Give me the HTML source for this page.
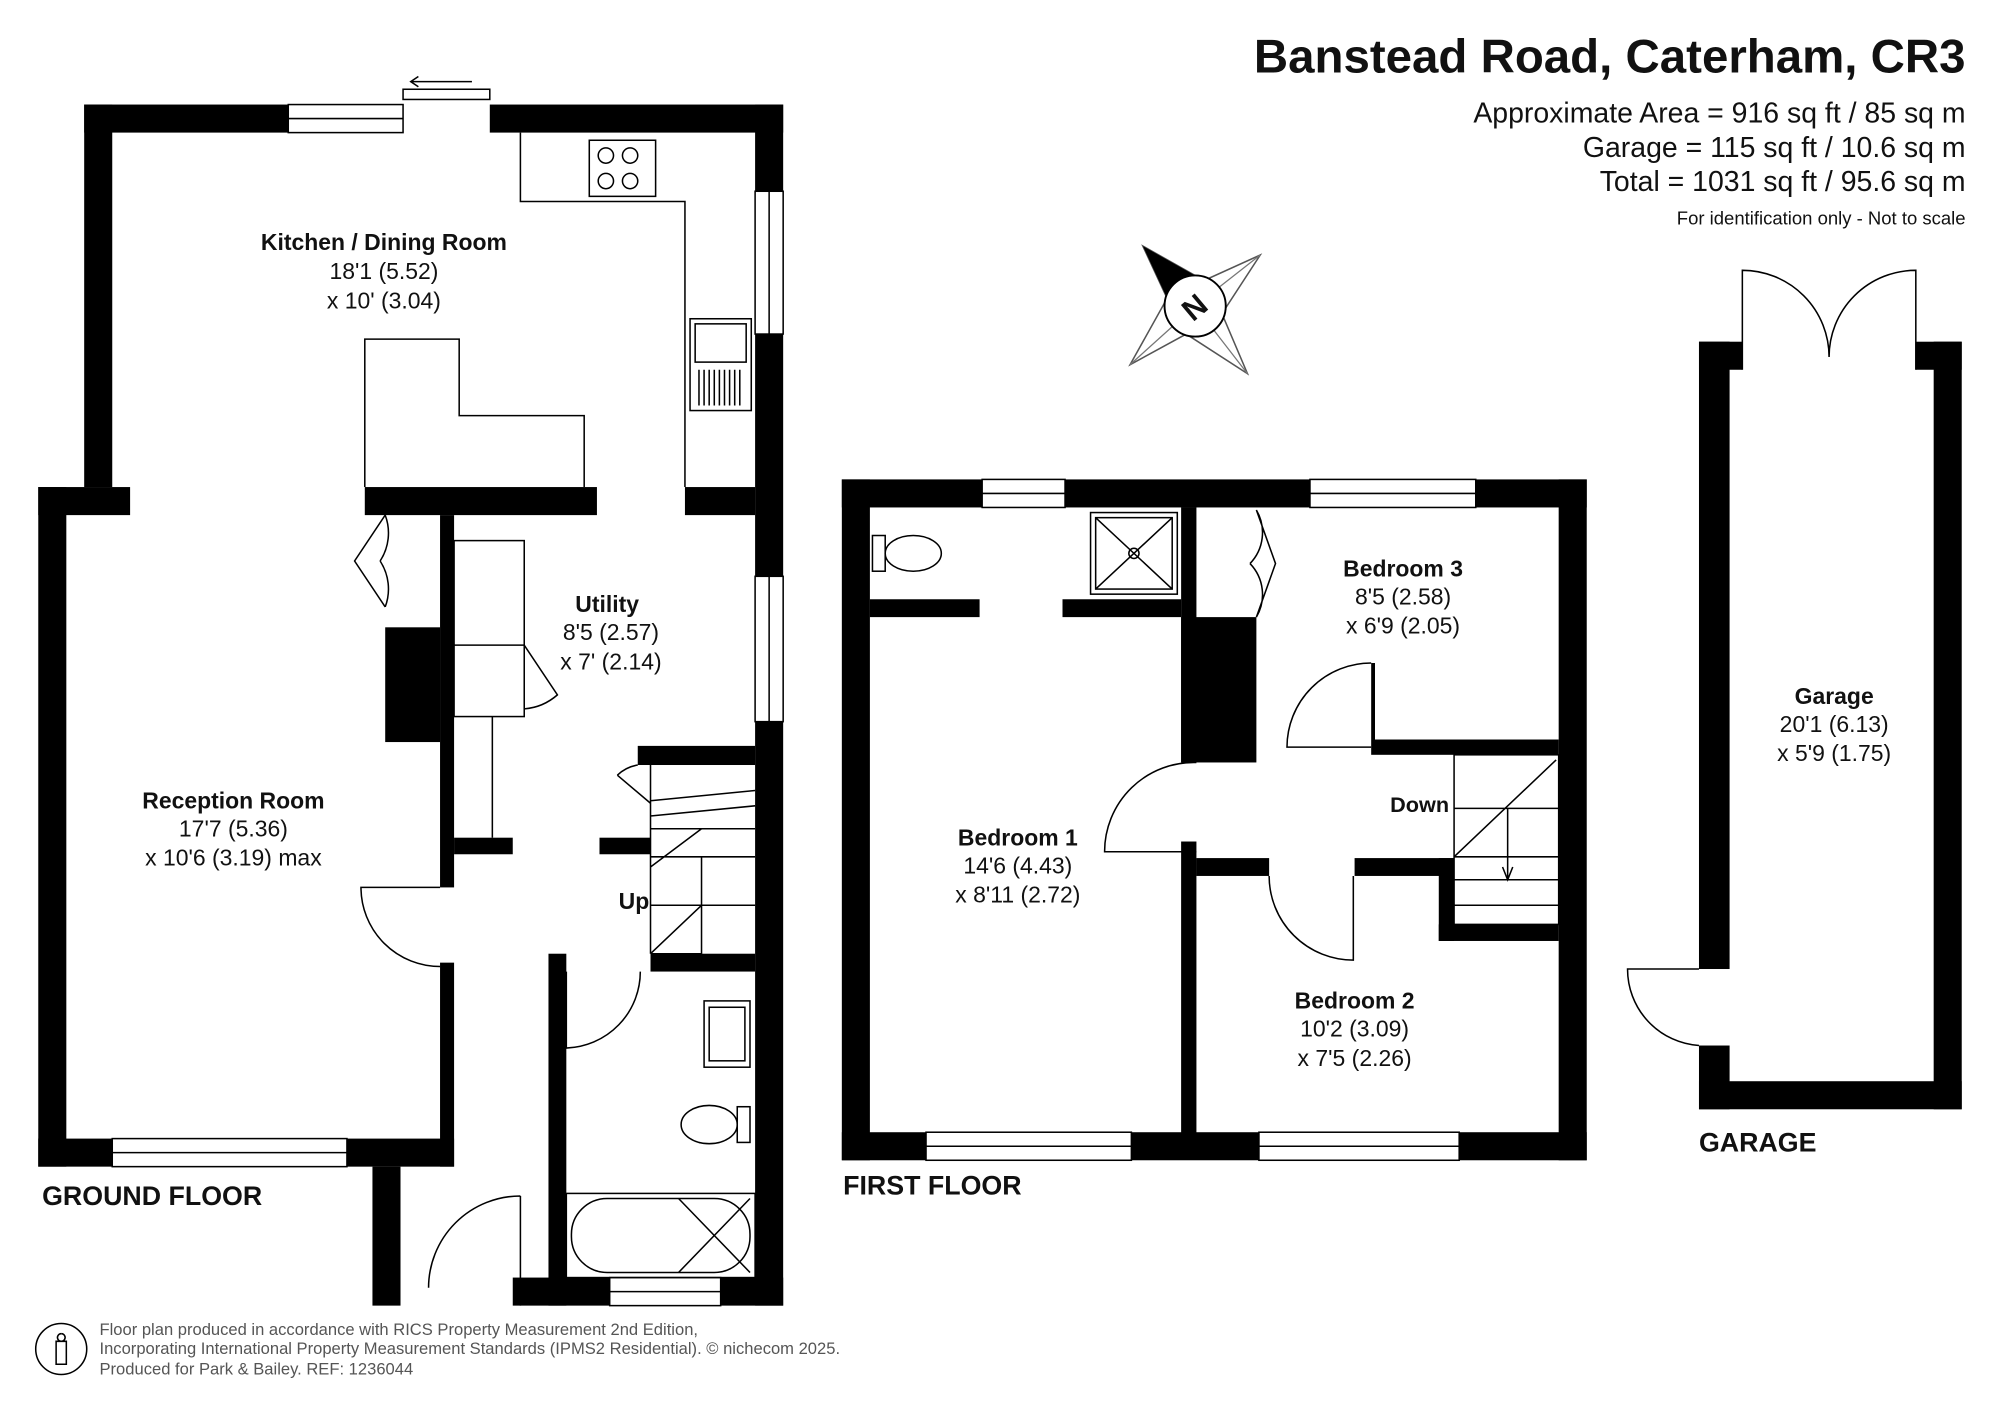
<!DOCTYPE html>
<html><head><meta charset="utf-8"><style>
html,body{margin:0;padding:0;background:#fff;}
svg{display:block;}
text{font-family:"Liberation Sans",Arial,sans-serif;fill:#111;}
.b{font-weight:bold;}
</style></head><body>
<svg width="2000" height="1414" viewBox="0 0 1568 1109" preserveAspectRatio="none" xmlns="http://www.w3.org/2000/svg">
<g fill="#000">
<rect x="66" y="82" width="160" height="22"/>
<rect x="384" y="82" width="230" height="22"/>
<rect x="66" y="82" width="22" height="300"/>
<rect x="592" y="82" width="22" height="68"/>
<rect x="592" y="262" width="22" height="190"/>
<rect x="592" y="566" width="22" height="458"/>
<rect x="30" y="382" width="22" height="533"/>
<rect x="30" y="382" width="72" height="22"/>
<rect x="30" y="893" width="58" height="22"/>
<rect x="272" y="893" width="84" height="22"/>
<rect x="286" y="382" width="182" height="22"/>
<rect x="537" y="382" width="55" height="22"/>
<rect x="302" y="492" width="43" height="90"/>
<rect x="345" y="404" width="11" height="292"/>
<rect x="345" y="755" width="11" height="160"/>
<rect x="356" y="657" width="46" height="13"/>
<rect x="470" y="657" width="40" height="13"/>
<rect x="500" y="585" width="92" height="15"/>
<rect x="430" y="748" width="14" height="276"/>
<rect x="510" y="748" width="82" height="14"/>
<rect x="402" y="1002" width="76" height="22"/>
<rect x="565" y="1002" width="49" height="22"/>
<rect x="292" y="915" width="22" height="109"/>
<rect x="660" y="376" width="110" height="22"/>
<rect x="835" y="376" width="192" height="22"/>
<rect x="1157" y="376" width="87" height="22"/>
<rect x="660" y="376" width="22" height="534"/>
<rect x="1222" y="376" width="22" height="534"/>
<rect x="660" y="888" width="66" height="22"/>
<rect x="887" y="888" width="100" height="22"/>
<rect x="1144" y="888" width="100" height="22"/>
<rect x="926" y="398" width="12" height="200"/>
<rect x="926" y="660" width="12" height="230"/>
<rect x="682" y="470" width="86" height="14"/>
<rect x="833" y="470" width="93" height="14"/>
<rect x="926" y="484" width="59" height="114"/>
<rect x="1075" y="580" width="147" height="12"/>
<rect x="1075" y="520" width="3" height="60"/>
<rect x="938" y="673" width="57" height="14"/>
<rect x="1062" y="673" width="78" height="14"/>
<rect x="1128" y="673" width="12" height="65"/>
<rect x="1128" y="725" width="94" height="13"/>
<rect x="1332" y="268" width="34" height="22"/>
<rect x="1502" y="268" width="36" height="22"/>
<rect x="1332" y="268" width="24" height="492"/>
<rect x="1332" y="820" width="24" height="50"/>
<rect x="1516" y="268" width="22" height="602"/>
<rect x="1332" y="848" width="206" height="22"/>
</g>
<g fill="none" stroke="#000" stroke-width="1.2">
<rect x="226" y="82" width="90" height="22"/><line x1="226" y1="93" x2="316" y2="93"/>
<rect x="316" y="70" width="68" height="8"/><path d="M370 64 H322 M328 60 L322 64 L328 68"/>
<rect x="592" y="150" width="22" height="112"/><line x1="603" y1="150" x2="603" y2="262"/>
<rect x="592" y="452" width="22" height="114"/><line x1="603" y1="452" x2="603" y2="566"/>
<rect x="88" y="893" width="184" height="22"/><line x1="88" y1="904" x2="272" y2="904"/>
<rect x="478" y="1002" width="87" height="22"/><line x1="478" y1="1013" x2="565" y2="1013"/>
<rect x="770" y="376" width="65" height="22"/><line x1="770" y1="387" x2="835" y2="387"/>
<rect x="1027" y="376" width="130" height="22"/><line x1="1027" y1="387" x2="1157" y2="387"/>
<rect x="726" y="888" width="161" height="22"/><line x1="726" y1="899" x2="887" y2="899"/>
<rect x="987" y="888" width="157" height="22"/><line x1="987" y1="899" x2="1144" y2="899"/>
<path d="M408 104 V158 H537 V382"/>
<rect x="462" y="110" width="52" height="44"/>
<circle cx="475" cy="122" r="6"/><circle cx="494" cy="122" r="6"/><circle cx="475" cy="142" r="6"/><circle cx="494" cy="142" r="6"/>
<rect x="541" y="250" width="48" height="72"/><rect x="545" y="254" width="40" height="30"/>
<path d="M548 290 V318 M552 290 V318 M556 290 V318 M560 290 V318 M564 290 V318 M568 290 V318 M572 290 V318 M576 290 V318 M580 290 V318"/>
<path d="M286 382 V266 H360 V326 H458 V382"/>
<rect x="356" y="424" width="55" height="138"/><line x1="356" y1="506" x2="411" y2="506"/>
<path d="M411 506 L437 545 A45 45 0 0 1 411 556"/>
<path d="M386 562 V657"/>
<path d="M302 404 L278 440 L302 476 M302 404 A40 40 0 0 1 298 440 M302 476 A40 40 0 0 0 298 440"/>
<path d="M345 696 L283 696 A62 62 0 0 0 345 758"/>
<path d="M444 762 L444 822 A60 60 0 0 0 502 762"/>
<path d="M408 938 V1024 M408 938 A72 72 0 0 0 336 1010"/>
<path d="M510 600 V748 M510 628 L592 620 M510 640 L592 632 M510 650 H592 M510 672 H592 M510 710 H592 M510 748 H550 V672 M550 650 L510 680 M550 710 L510 748"/>
<path d="M484 608 L510 630 M484 608 A30 30 0 0 1 500 600"/>
<rect x="552" y="785" width="36" height="52"/><rect x="556" y="790" width="28" height="42"/>
<ellipse cx="556" cy="882" rx="22" ry="15"/><rect x="578" y="868" width="10" height="28"/>
<rect x="444" y="936" width="148" height="66"/><rect x="448" y="940" width="140" height="58" rx="28"/>
<path d="M532 940 L588 998 M532 998 L588 940"/>
<ellipse cx="716" cy="434" rx="22" ry="14"/><rect x="684" y="420" width="10" height="28"/>
<rect x="855" y="402" width="68" height="64"/><rect x="859" y="406" width="60" height="56"/>
<path d="M859 406 L919 462 M919 406 L859 462"/><circle cx="889" cy="434" r="4"/>
<path d="M985 400 L1000 442 L985 484 M985 400 A35 35 0 0 1 980 442 M985 484 A35 35 0 0 0 980 442"/>
<path d="M1075 520 A66 66 0 0 0 1009 586 H1075"/>
<path d="M938 598 A70 70 0 0 0 866 668 H938"/>
<path d="M995 687 A66 66 0 0 0 1061 753 V687"/>
<rect x="1140" y="592" width="82" height="133"/>
<path d="M1140 634 H1222 M1140 672 H1222 M1140 690 H1222 M1140 710 H1222 M1140 672 L1220 596 M1182 634 V690 M1178 680 L1182 690 L1186 680"/>
<path d="M1366 290 V212 A68 68 0 0 1 1434 280 M1502 290 V212 A68 68 0 0 0 1434 280"/>
<path d="M1332 760 H1276 A60 60 0 0 0 1332 820"/>
<circle cx="48" cy="1058" r="20"/>
<path d="M48 1046 a3 3 0 1 0 0.1 0 M44 1052 h8 v18 h-8 z"/>
</g>
<!-- compass -->
<polygon points="896,193 944,220 988,200 958,246 978,293 930,262 886,286 915,234" fill="#fff" stroke="#555" stroke-width="1.2"/>
<path d="M937 240 L944 220 M937 240 L958 246 M937 240 L930 262 M937 240 L915 234 M937 240 L988 200 M937 240 L978 293 M937 240 L886 286" stroke="#777" stroke-width="1" fill="none"/>
<polygon points="896,193 944,220 937,240 915,234" fill="#000"/>
<circle cx="937" cy="240" r="24" fill="#fff" stroke="#000" stroke-width="1.5"/>
<text x="928" y="249" font-size="24" class="b" transform="rotate(-40 937 241)">N</text>
<text x="1541" y="57" font-size="37.2" class="b" text-anchor="end">Banstead Road, Caterham, CR3</text>
<text x="1541" y="96" font-size="22.3" text-anchor="end">Approximate Area = 916 sq ft / 85 sq m</text>
<text x="1541" y="123" font-size="22.3" text-anchor="end">Garage = 115 sq ft / 10.6 sq m</text>
<text x="1541" y="150" font-size="22.3" text-anchor="end">Total = 1031 sq ft / 95.6 sq m</text>
<text x="1541" y="176" font-size="14.5" text-anchor="end">For identification only - Not to scale</text>
<g font-size="18" text-anchor="middle">
<text x="301" y="196" class="b">Kitchen / Dining Room</text>
<text x="301" y="219">18'1 (5.52)</text><text x="301" y="242">x 10' (3.04)</text>
<text x="476" y="480" class="b">Utility</text>
<text x="479" y="502">8'5 (2.57)</text><text x="479" y="525">x 7' (2.14)</text>
<text x="183" y="634" class="b">Reception Room</text>
<text x="183" y="656">17'7 (5.36)</text><text x="183" y="679">x 10'6 (3.19) max</text>
<text x="497" y="713" class="b">Up</text>
<text x="1100" y="452" class="b">Bedroom 3</text>
<text x="1100" y="474">8'5 (2.58)</text><text x="1100" y="497">x 6'9 (2.05)</text>
<text x="798" y="663" class="b">Bedroom 1</text>
<text x="798" y="685">14'6 (4.43)</text><text x="798" y="708">x 8'11 (2.72)</text>
<text x="1113" y="637" class="b" font-size="17">Down</text>
<text x="1062" y="791" class="b">Bedroom 2</text>
<text x="1062" y="813">10'2 (3.09)</text><text x="1062" y="836">x 7'5 (2.26)</text>
<text x="1438" y="552" class="b">Garage</text>
<text x="1438" y="574">20'1 (6.13)</text><text x="1438" y="597">x 5'9 (1.75)</text>
</g>
<g font-size="21" class="b">
<text x="33" y="945">GROUND FLOOR</text>
<text x="661" y="937">FIRST FLOOR</text>
<text x="1332" y="903">GARAGE</text>
</g>
<g font-size="13">
<text x="78" y="1047" style="fill:#555">Floor plan produced in accordance with RICS Property Measurement 2nd Edition,</text>
<text x="78" y="1062" style="fill:#555">Incorporating International Property Measurement Standards (IPMS2 Residential).   © nichecom 2025.</text>
<text x="78" y="1078" style="fill:#555">Produced for Park &amp; Bailey.   REF:  1236044</text>
</g>
</svg>
</body></html>
